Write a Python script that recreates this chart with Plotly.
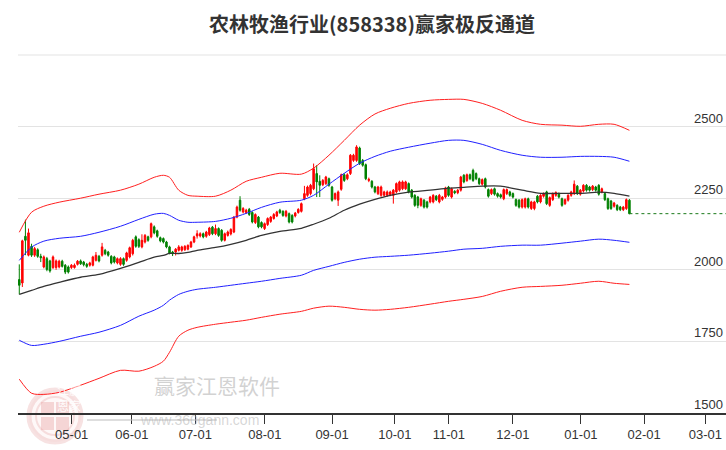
import plotly.graph_objects as go

# ---------------- data ----------------
open_ = [1966,1954,2117,2051,2082,2051,2070,2047,2010,2039,2031,2008,2008,2010,2030,2016,2010,2008,2008,2019,
         2031,2027,2019,2016,2016,2033,2047,2051,2068,2062,2047,2045,2024,2019,2039,2033,2045,2056,2115,2105,
         2080,2097,2115,2115,2150,2136,2112,2109,2097,2080,2062,2062,2068,2068,2070,2072,2080,2097,2118,2118,
         2126,2117,2123,2149,2126,2144,2138,2103,2120,2125,2132,2184,2243,2202,2200,2211,2200,2165,2184,2165,
         2144,2158,2169,2179,2188,2208,2204,2188,2196,2190,2188,2200,2204,2248,2260,2266,2283,2336,2309,2297,
         2301,2318,2289,2248,2243,2281,2332,2318,2336,2382,2382,2425,2382,2367,2312,2309,2289,2266,2260,2260,
         2260,2262,2260,2272,2278,2283,2283,2301,2278,2260,2254,2225,2243,2237,2237,2237,2257,2237,2246,2254,
         2289,2254,2274,2269,2278,2330,2312,2332,2347,2336,2318,2299,2318,2280,2266,2283,2266,2262,2248,2266,
         2272,2266,2245,2243,2219,2219,2248,2214,2214,2257,2237,2257,2272,2225,2245,2260,2266,2248,2231,2243,
         2260,2266,2292,2264,2275,2295,2289,2280,2289,2295,2272,2266,2248,2240,2222,2225,2219,2210,2214,2243]
close = [1946,2101,2103,2129,2051,2074,2047,2042,2045,2001,1996,2045,2031,2030,2012,1992,1992,2016,2016,2030,
         2021,2018,2012,2024,2045,2051,2031,2080,2056,2051,2024,2027,2039,2039,2019,2059,2077,2103,2082,2082,
         2103,2120,2103,2161,2129,2117,2101,2097,2080,2059,2056,2072,2080,2080,2082,2085,2097,2115,2126,2126,
         2115,2132,2146,2126,2144,2120,2103,2126,2132,2141,2184,2219,2208,2214,2208,2193,2167,2193,2150,2150,
         2161,2179,2184,2193,2202,2200,2190,2204,2167,2167,2198,2211,2231,2266,2289,2295,2353,2307,2295,2312,
         2324,2295,2243,2266,2272,2332,2312,2332,2400,2400,2429,2371,2365,2318,2316,2289,2272,2289,2289,2272,
         2272,2272,2278,2301,2307,2307,2307,2272,2254,2225,2225,2248,2219,2219,2254,2260,2245,2260,2254,2286,
         2260,2283,2269,2278,2324,2307,2332,2318,2312,2318,2301,2315,2289,2257,2280,2264,2257,2254,2280,2280,
         2260,2254,2225,2219,2245,2248,2219,2237,2237,2237,2260,2266,2231,2252,2266,2270,2254,2225,2245,2260,
         2272,2299,2266,2278,2295,2278,2278,2292,2278,2264,2283,2245,2214,2214,2233,2210,2210,2219,2245,2196]
high = [2019,2105,2175,2144,2091,2080,2075,2056,2050,2045,2035,2050,2036,2035,2035,2020,2015,2020,2022,2034,
        2036,2031,2024,2028,2049,2062,2052,2094,2073,2066,2051,2049,2043,2044,2043,2063,2081,2108,2120,2110,
        2124,2125,2119,2165,2155,2140,2116,2113,2101,2084,2066,2076,2086,2084,2086,2089,2101,2119,2138,2131,
        2130,2136,2150,2153,2158,2148,2142,2130,2137,2145,2188,2224,2257,2219,2213,2216,2204,2197,2188,2169,
        2165,2183,2188,2198,2206,2213,2208,2209,2200,2194,2202,2215,2235,2293,2294,2300,2371,2365,2330,2317,
        2328,2322,2293,2270,2277,2336,2337,2337,2404,2405,2435,2430,2387,2371,2322,2313,2293,2293,2294,2276,
        2277,2276,2282,2305,2311,2312,2311,2305,2282,2264,2258,2252,2247,2241,2258,2264,2261,2265,2258,2290,
        2293,2287,2278,2282,2328,2334,2336,2336,2353,2340,2322,2319,2322,2284,2284,2287,2270,2266,2284,2284,
        2276,2270,2249,2247,2249,2252,2252,2241,2241,2261,2264,2270,2276,2256,2270,2274,2270,2252,2249,2264,
        2276,2312,2296,2282,2299,2299,2293,2296,2293,2299,2287,2270,2252,2244,2237,2229,2223,2223,2249,2247]
low = [1914,1940,2051,2047,2045,2045,2042,2027,2005,1995,1990,2003,2000,2005,2008,1985,1987,2003,2004,2015,
       2017,2012,2007,2011,2012,2029,2026,2046,2051,2046,2019,2022,2019,2014,2014,2028,2040,2050,2077,2076,
       2075,2092,2098,2110,2124,2112,2096,2092,2075,2054,2048,2050,2064,2063,2066,2068,2076,2093,2109,2113,
       2110,2112,2118,2121,2121,2115,2098,2099,2116,2120,2128,2180,2203,2197,2195,2188,2162,2160,2145,2145,
       2139,2153,2164,2175,2184,2195,2185,2183,2162,2162,2183,2196,2200,2243,2255,2260,2278,2254,2254,2292,
       2296,2290,2238,2243,2223,2276,2307,2313,2331,2377,2377,2366,2360,2313,2306,2284,2267,2261,2255,2255,
       2255,2257,2231,2267,2273,2278,2279,2267,2249,2220,2215,2220,2214,2214,2232,2232,2240,2232,2241,2249,
       2255,2249,2264,2264,2273,2302,2307,2313,2307,2313,2296,2294,2284,2252,2261,2259,2252,2249,2243,2261,
       2255,2249,2220,2214,2214,2214,2214,2209,2208,2232,2232,2252,2226,2220,2240,2255,2249,2220,2226,2238,
       2255,2261,2261,2259,2270,2273,2273,2275,2273,2259,2267,2240,2209,2209,2217,2205,2205,2205,2209,2194]

band_idx = [0,4,8,13,20,26,33,39,44,47,49,52,55,58,64,69,74,79,85,92,96,101,106,111,116,121,127,134,140,
            145,151,157,164,170,177,183,189,194,199]
red_upper = [2131,2201,2222,2236,2250,2264,2278,2299,2323,2330,2323,2278,2260,2257,2257,2278,2309,2323,2337,
             2334,2355,2400,2452,2505,2544,2564,2581,2592,2595,2595,2581,2557,2522,2508,2505,2501,2508,2508,2487]
blue_upper = [2033,2079,2100,2110,2117,2131,2152,2176,2194,2197,2190,2173,2166,2166,2169,2180,2197,2218,2236,
              2243,2260,2299,2337,2372,2396,2414,2428,2442,2452,2452,2438,2417,2400,2393,2393,2396,2396,2393,2379]
middle = [1914,1928,1942,1956,1974,1984,2005,2026,2044,2050,2057,2057,2061,2068,2078,2089,2103,2120,2134,
          2145,2159,2180,2208,2229,2246,2260,2271,2278,2285,2288,2292,2292,2278,2267,2267,2267,2271,2267,2257]
blue_lower = [1754,1736,1740,1750,1768,1782,1806,1838,1859,1876,1894,1914,1925,1932,1939,1946,1953,1960,1970,
              1981,1998,2012,2026,2037,2044,2047,2051,2058,2065,2072,2075,2082,2086,2086,2093,2100,2107,2103,2096]
red_lower = [1618,1569,1565,1572,1597,1621,1649,1646,1663,1681,1712,1768,1789,1799,1810,1817,1824,1834,1845,
             1855,1866,1873,1869,1862,1859,1862,1869,1880,1890,1897,1907,1925,1939,1942,1946,1953,1960,1953,1949]

month_labels = ["05-01","06-01","07-01","08-01","09-01","10-01","11-01","12-01","01-01","02-01","03-01"]
month_pos = [17.1,36.7,57.4,80.1,102.0,122.5,140.1,161.0,183.2,203.8,223.8]
y_ticks = [1500,1750,2000,2250,2500]

# ---------------- figure ----------------
W, H = 726, 450
ML, MT, MB = 18, 55, 37
PW, PH = W - ML, H - MT - MB


def px(xp):  # page x pixel -> paper x
    return (xp - ML) / PW


def py(yp):  # page y pixel -> paper y
    return (H - MB - yp) / PH


x = list(range(len(close)))
X_MAX = 230.5

fig = go.Figure()
for ys, col, w in [(red_upper, "#ff2020", 1.0), (red_lower, "#ff2020", 1.0),
                   (blue_upper, "#2020ff", 1.0), (blue_lower, "#2020ff", 1.0),
                   (middle, "#333333", 1.3)]:
    fig.add_trace(go.Scatter(x=band_idx, y=ys, mode="lines",
                             line=dict(color=col, width=w, shape="spline", smoothing=0.8),
                             hoverinfo="skip", showlegend=False))

fig.add_trace(go.Candlestick(
    x=x, open=open_, high=high, low=low, close=close,
    increasing=dict(line=dict(color="#ff0000", width=1), fillcolor="#ff0000"),
    decreasing=dict(line=dict(color="#008000", width=1), fillcolor="#008000"),
    whiskerwidth=0, showlegend=False))

# dotted line of the last close to the right edge
fig.add_trace(go.Scatter(x=[x[-1], X_MAX], y=[close[-1], close[-1]], mode="lines",
                         line=dict(color="#1a7a1a", width=1, dash="dot"),
                         hoverinfo="skip", showlegend=False))

# watermark logo
fig.add_shape(type="circle", xref="paper", yref="paper",
              x0=px(29), x1=px(81), y0=py(442), y1=py(390),
              line=dict(color="rgba(228,160,160,0.30)", width=5),
              fillcolor="rgba(250,228,228,0.25)", layer="below")
fig.add_shape(type="circle", xref="paper", yref="paper",
              x0=px(36), x1=px(74), y0=py(435), y1=py(397),
              line=dict(color="rgba(228,160,160,0.30)", width=2), layer="below")
for x0, y0 in [(41, 402), (56, 402), (41, 417), (56, 417)]:
    fig.add_shape(type="rect", xref="paper", yref="paper",
                  x0=px(x0), x1=px(x0 + 13), y0=py(y0 + 13), y1=py(y0),
                  line=dict(width=0), fillcolor="rgba(230,150,150,0.35)", layer="below")
fig.add_annotation(text="江赢<br>恩家", xref="paper", yref="paper",
                   x=px(55), y=py(416), showarrow=False,
                   font=dict(size=12, color="rgba(255,255,255,0.9)", family="Noto Sans CJK SC"))
fig.add_annotation(text="赢家江恩软件", xref="paper", yref="paper",
                   x=px(152), y=py(402), showarrow=False,
                   font=dict(size=21, color="rgba(165,165,165,0.5)", family="Noto Sans CJK SC"))
fig.add_annotation(text="www.360gann.com", xref="paper", yref="paper",
                   x=px(138), y=py(430), showarrow=False,
                   font=dict(size=14, color="rgba(165,165,165,0.45)", family="Liberation Sans"))
fig.add_shape(type="line", xref="paper", yref="paper",
              x0=px(87), x1=px(217), y0=py(420), y1=py(420),
              line=dict(color="rgba(190,190,190,0.5)", width=2))

# top grid line (no label)
fig.add_shape(type="line", xref="paper", yref="paper", x0=0, x1=1, y0=1, y1=1,
              line=dict(color="#e3e3e3", width=1), layer="below")

# y labels above the grid lines, right aligned
for v in y_ticks:
    fig.add_annotation(text=str(v), xref="paper", yref="y", x=1, y=v,
                       xanchor="right", yanchor="bottom", showarrow=False, yshift=-1, xshift=-1,
                       font=dict(size=13, color="#333333", family="Liberation Sans"))

fig.update_layout(
    width=W, height=H,
    margin=dict(l=ML, r=0, t=MT, b=MB, pad=0),
    paper_bgcolor="white", plot_bgcolor="white",
    title=dict(text="<b>农林牧渔行业(858338)赢家极反通道</b>", x=372 / W, xref="container",
               y=1 - 25 / H, yref="container", xanchor="center", yanchor="middle",
               font=dict(size=20, color="#333333", family="Noto Sans CJK SC")),
    xaxis=dict(range=[-0.42, X_MAX], tickmode="array", tickvals=month_pos, ticktext=month_labels,
               ticks="outside", ticklen=9, tickcolor="#333333", tickwidth=1,
               showline=True, linecolor="#333333", linewidth=1.5, showgrid=False, zeroline=False,
               rangeslider=dict(visible=False), ticklabeloverflow="allow",
               tickfont=dict(size=13, color="#333333", family="Liberation Sans")),
    yaxis=dict(range=[1500, 2750], side="right", tickmode="array", tickvals=y_ticks,
               showticklabels=False, showgrid=True, gridcolor="#e3e3e3", gridwidth=1,
               zeroline=False, showline=False, ticks=""),
)

fig.write_html("out.html", config={"displayModeBar": False},
               post_script="document.body.style.margin='0';document.body.style.overflow='hidden';")
